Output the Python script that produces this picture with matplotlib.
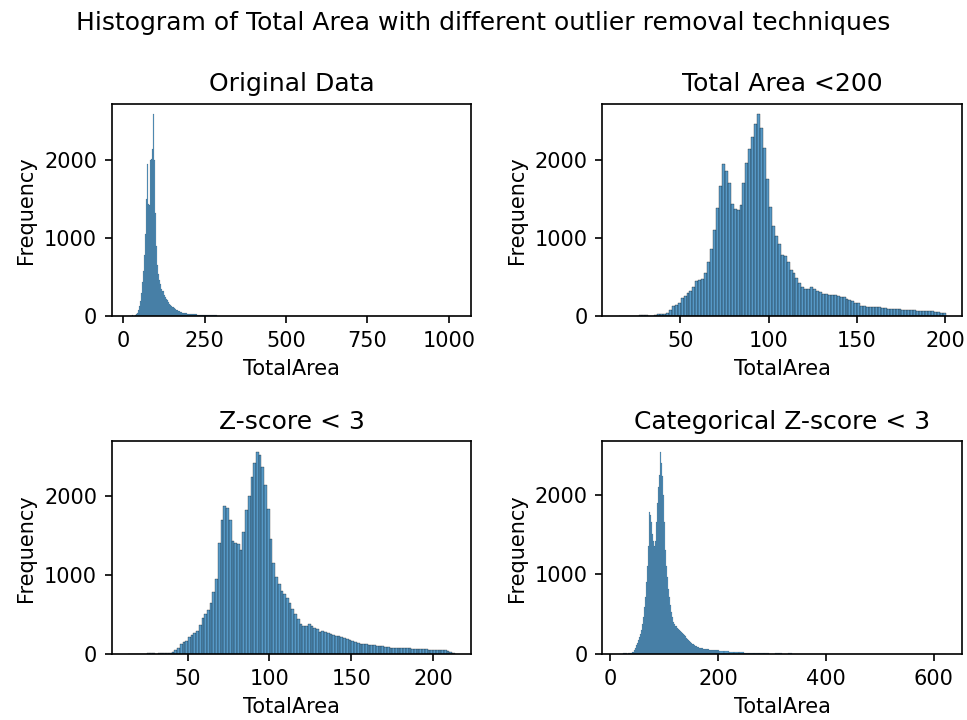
import matplotlib.pyplot as plt
import numpy as np
from matplotlib.colors import to_rgba

# Histogram bins: first edge, bin width and counts per bin.
# Where the counts run out, a few wider tail bins follow (edges listed explicitly).

# Original Data
orig_start, orig_width = 14.6, 3.07
orig_counts = [1, 0, 0, 2, 15, 12, 8, 20, 30, 45,
               80, 130, 200, 300, 440, 580, 780, 1050, 1500, 1940,
               1430, 1420, 1990, 2010, 2140, 2580, 2000, 1320, 900, 650,
               540, 470, 420, 350, 330, 320, 270, 245, 225, 205,
               185, 165, 150, 135, 125, 115, 105, 95, 85, 78,
               70, 65, 60, 55, 50, 46, 43, 42, 40, 38,
               36, 34, 33, 32, 30, 29, 28, 27, 26, 25,
               24, 23, 22, 20, 19, 18, 17, 17, 16, 16,
               15, 15, 15, 15, 14, 14, 14, 13, 13, 12,
               12, 11, 11, 10, 10, 9, 9, 8, 6, 4,
               3, 2, 2, 1]
orig_tail_edges = [400, 500, 600, 700, 800, 900, 1000, 1018.5]
orig_tail_counts = [2, 1, 1, 1, 1, 1, 1, 1]

# Total Area < 200
lt200_start, lt200_width = 15.0, 1.67
lt200_counts = [1, 0, 0, 0, 1, 2, 5, 20, 22, 18,
                6, 8, 25, 28, 30, 32, 45, 80, 130, 150,
                170, 230, 260, 300, 320, 380, 450, 460, 480, 560,
                700, 860, 1100, 1380, 1660, 1950, 1850, 1700, 1440, 1370,
                1360, 1420, 1700, 1960, 2130, 2290, 2450, 2580, 2400, 2150,
                1750, 1400, 1150, 1030, 930, 790, 770, 690, 590, 550,
                490, 430, 370, 355, 350, 375, 350, 330, 310, 290,
                285, 280, 275, 268, 262, 252, 245, 225, 210, 192,
                178, 168, 140, 128, 122, 120, 118, 119, 117, 108,
                105, 100, 98, 96, 94, 92, 86, 85, 85, 84,
                78, 72, 70, 68, 68, 67, 67, 62, 55, 50,
                40]

# Z-score < 3
zs_start, zs_width = 13.7, 1.662
zs_counts = [1, 0, 0, 0, 1, 2, 4, 17, 18, 12,
             5, 8, 16, 18, 18, 18, 22, 45, 80, 125,
             150, 168, 210, 240, 265, 290, 370, 460, 500, 560,
             640, 780, 950, 1400, 1700, 1870, 1840, 1690, 1430, 1400,
             1390, 1320, 1540, 1820, 2000, 2240, 2410, 2560, 2520, 2360,
             2140, 1830, 1450, 1150, 975, 880, 800, 760, 710, 640,
             570, 510, 440, 375, 356, 360, 377, 356, 330, 312,
             275, 290, 280, 268, 252, 240, 230, 222, 215, 205,
             192, 172, 160, 148, 138, 125, 122, 123, 118, 112,
             108, 104, 101, 98, 93, 88, 80, 76, 78, 80,
             76, 72, 71, 70, 67, 63, 60, 58, 59, 58,
             55, 51, 49, 47, 46, 51, 48, 38, 25, 12]

# Categorical Z-score < 3
cat_start, cat_width = 15.4, 1.86
cat_counts = [1, 0, 0, 2, 8, 6, 10, 8, 5, 8,
              12, 15, 17, 22, 30, 50, 75, 110, 140, 175,
              210, 250, 300, 380, 470, 590, 720, 900, 1100, 1350,
              1780, 1740, 1650, 1500, 1420, 1360, 1420, 1650, 1900, 2100,
              2250, 2540, 2400, 2230, 2000, 1650, 1300, 1100, 960, 820,
              720, 620, 530, 460, 400, 370, 355, 345, 330, 310,
              295, 285, 270, 258, 248, 235, 220, 206, 192, 175,
              158, 148, 138, 128, 120, 110, 100, 94, 88, 84,
              80, 78, 76, 72, 68, 65, 63, 61, 59, 58,
              56, 55, 53, 52, 51, 50, 49, 47, 46, 45]
cat_tail_edges = [210.7, 220.0, 229.3, 238.6, 247.9, 257.2, 266.5, 275.8, 285.1, 294.4,
                  300, 306, 312, 318, 324, 330, 336, 400, 500, 621.8]
cat_tail_counts = [42, 36, 30, 24, 20, 18, 16, 15, 14, 12,
                   2, 0, 8, 6, 0, 0, 7, 1, 1, 1]

titles = ["Original Data", "Total Area <200", "Z-score < 3", "Categorical Z-score < 3"]
xticks = [[0, 250, 500, 750, 1000], [50, 100, 150, 200], [50, 100, 150, 200], [0, 200, 400, 600]]


def make_edges(start, width, counts, tail_edges=()):
    edges = start + width * np.arange(len(counts) + 1)
    return np.concatenate([edges, np.asarray(tail_edges, dtype=float)])


panels = [
    (make_edges(orig_start, orig_width, orig_counts, orig_tail_edges),
     list(orig_counts) + orig_tail_counts, orig_width),
    (make_edges(lt200_start, lt200_width, lt200_counts), lt200_counts, lt200_width),
    (make_edges(zs_start, zs_width, zs_counts), zs_counts, zs_width),
    (make_edges(cat_start, cat_width, cat_counts, cat_tail_edges),
     list(cat_counts) + cat_tail_counts, cat_width),
]

bar_face = to_rgba("#1f77b4", 0.75)

fig, axes = plt.subplots(2, 2, figsize=(967 / 150, 720 / 150), dpi=150)
fig.subplots_adjust(left=0.1155, right=0.9948, bottom=0.0917, top=0.8556,
                    wspace=0.365, hspace=0.588)

for ax, (edges, counts, width), title, ticks in zip(axes.flat, panels, titles, xticks):
    centers = (edges[:-1] + edges[1:]) / 2
    # thin edges like seaborn: a tenth of the bin width in points
    span = 1.1 * (edges[-1] - edges[0])
    bin_pts = width / span * ax.get_position().width * fig.get_figwidth() * 72
    lw = min(0.1 * bin_pts, 1.0)
    ax.hist(centers, bins=edges, weights=counts, facecolor=bar_face,
            edgecolor="black", linewidth=lw)
    ax.set_title(title)
    ax.set_xlabel("TotalArea")
    ax.set_ylabel("Frequency")
    ax.set_xticks(ticks)
    ax.set_yticks([0, 1000, 2000])

fig.suptitle("Histogram of Total Area with different outlier removal techniques", y=0.985)

fig.savefig("out.png", dpi=150)
